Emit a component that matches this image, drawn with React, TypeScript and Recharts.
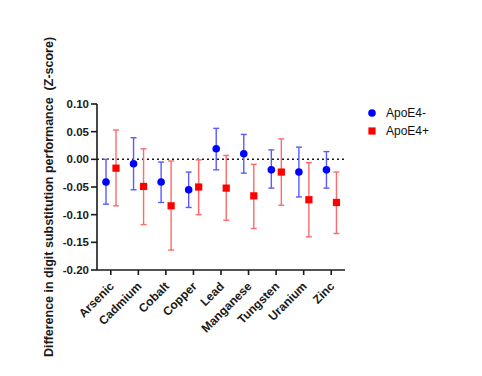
import { ComposedChart, Bar, ErrorBar, LabelList, XAxis, YAxis, ReferenceLine } from "recharts";

const metals = ["Arsenic", "Cadmium", "Cobalt", "Copper", "Lead", "Manganese", "Tungsten", "Uranium", "Zinc"];

// ApoE4- (blue circles)
const negMean = [-0.041, -0.008, -0.041, -0.055, 0.019, 0.01, -0.019, -0.023, -0.019];
const negLow = [-0.081, -0.055, -0.078, -0.087, -0.019, -0.025, -0.052, -0.068, -0.052];
const negHigh = [0.0, 0.039, -0.005, -0.023, 0.056, 0.045, 0.017, 0.022, 0.014];

// ApoE4+ (red squares)
const posMean = [-0.016, -0.049, -0.084, -0.05, -0.052, -0.066, -0.023, -0.073, -0.078];
const posLow = [-0.084, -0.118, -0.164, -0.1, -0.11, -0.125, -0.083, -0.14, -0.134];
const posHigh = [0.053, 0.019, -0.003, -0.001, 0.007, -0.009, 0.037, -0.006, -0.023];

const yTicks = [0.1, 0.05, 0, -0.05, -0.1, -0.15, -0.2];

const BLUE = "#0000ff";
const BLUE_BAR = "#5a5aff";
const RED = "#ff0000";
const RED_BAR = "#ff6a6a";
const INK = "#1a1a1a";
const FONT = "'Liberation Sans', Arial, sans-serif";

const data = metals.map((name, i) => ({
  name,
  neg: negMean[i],
  negErr: [negMean[i] - negLow[i], negHigh[i] - negMean[i]],
  pos: posMean[i],
  posErr: [posMean[i] - posLow[i], posHigh[i] - posMean[i]],
}));

// point sits at the value end of the (invisible) bar
function valueEnd(y: number, height: number, value: number) {
  return value < 0 && height > 0 ? y + height : y;
}

function CircleMark(props: any) {
  const { x, y, width, height, value } = props;
  const cy = valueEnd(Number(y), Number(height), Number(value));
  return <circle cx={Number(x) + Number(width) / 2} cy={cy} r={3.8} fill={BLUE} />;
}

function SquareMark(props: any) {
  const { x, y, width, height, value } = props;
  const cy = valueEnd(Number(y), Number(height), Number(value));
  const cx = Number(x) + Number(width) / 2;
  return <rect x={cx - 3.6} y={cy - 3.6} width={7.2} height={7.2} fill={RED} />;
}

function XTick({ x, y, payload }: any) {
  return (
    <text
      x={x + 4}
      y={y + 10}
      transform={`rotate(-45, ${x + 4}, ${y + 10})`}
      textAnchor="end"
      fontFamily={FONT}
      fontWeight="bold"
      fontSize={12}
      fill={INK}
    >
      {payload.value}
    </text>
  );
}

function YTitle() {
  return (
    <text
      x={50}
      y={197}
      transform="rotate(-90, 50, 197)"
      textAnchor="middle"
      dominantBaseline="middle"
      fontFamily={FONT}
      fontWeight="bold"
      fontSize={12.5}
      fill={INK}
    >
      Difference in digit substitution performance{"\u00a0\u00a0"}(Z-score)
    </text>
  );
}

function LegendBox() {
  const row = (shape: any, label: string) => (
    <div style={{ display: "flex", alignItems: "center", height: 18 }}>
      <svg width={14} height={12}>{shape}</svg>
      <span style={{ marginLeft: 6, fontSize: 12, color: "#111" }}>{label}</span>
    </div>
  );
  return (
    <div style={{ position: "absolute", left: 366, top: 104, fontFamily: FONT }}>
      {row(<circle cx={6} cy={6} r={3.8} fill={BLUE} />, "ApoE4-")}
      {row(<rect x={2.4} y={2.4} width={7.2} height={7.2} fill={RED} />, "ApoE4+")}
    </div>
  );
}

export default function App() {
  return (
    <div style={{ position: "fixed", left: 0, top: 0, width: 482, height: 376, background: "#fff" }}>
      <ComposedChart
        width={482}
        height={376}
        data={data}
        margin={{ top: 104, right: 137, bottom: 0, left: 0 }}
        barSize={10}
        barGap={0}
      >
        <XAxis
          dataKey="name"
          interval={0}
          tick={<XTick />}
          tickSize={5}
          axisLine={{ stroke: INK, strokeWidth: 1.6 }}
          tickLine={{ stroke: INK, strokeWidth: 1.6 }}
          height={106}
        />
        <YAxis
          width={97}
          domain={[-0.2, 0.1]}
          ticks={yTicks}
          interval={0}
          allowDataOverflow
          tickFormatter={(v: number) => v.toFixed(2)}
          tick={{ fontFamily: FONT, fontWeight: "bold", fontSize: 11.5, fill: INK }}
          tickSize={6}
          axisLine={{ stroke: INK, strokeWidth: 1.6 }}
          tickLine={{ stroke: INK, strokeWidth: 1.6 }}
          label={{ content: () => <YTitle /> }}
        />
        <ReferenceLine y={0} stroke={INK} strokeWidth={1.5} strokeDasharray="2 3" />
        <Bar dataKey="neg" name="ApoE4-" fill="transparent" isAnimationActive={false} shape={() => <g />}>
          <ErrorBar dataKey="negErr" width={3} stroke={BLUE_BAR} strokeWidth={1.4} direction="y" />
          <LabelList dataKey="neg" content={<CircleMark />} />
        </Bar>
        <Bar dataKey="pos" name="ApoE4+" fill="transparent" isAnimationActive={false} shape={() => <g />}>
          <ErrorBar dataKey="posErr" width={3} stroke={RED_BAR} strokeWidth={1.4} direction="y" />
          <LabelList dataKey="pos" content={<SquareMark />} />
        </Bar>
      </ComposedChart>
      <LegendBox />
    </div>
  );
}
